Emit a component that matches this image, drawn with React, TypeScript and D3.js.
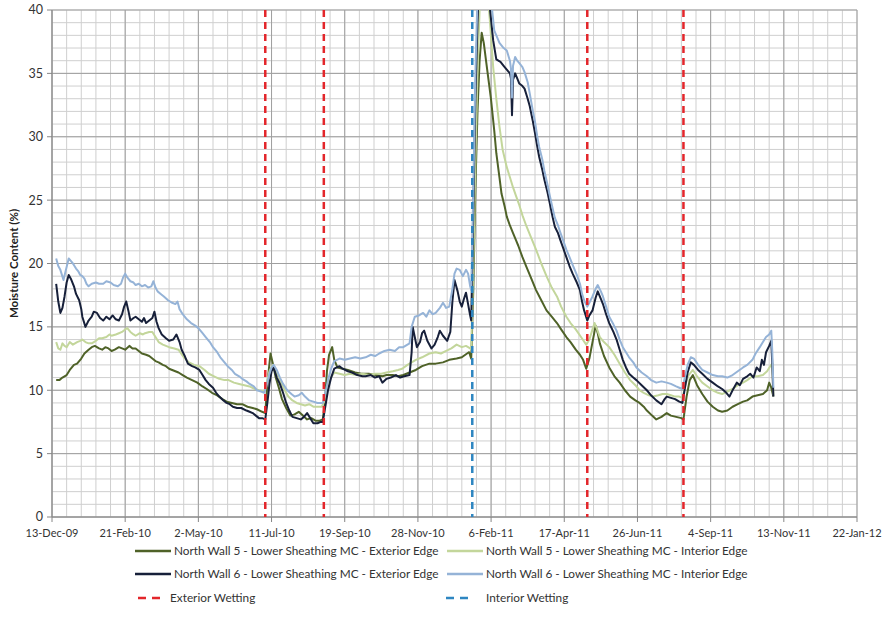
import React from "react";
import * as d3 from "d3";

// day offsets counted from 13-Dec-09, values in % moisture content
const START = new Date(Date.UTC(2009, 11, 13));
const END = new Date(Date.UTC(2012, 0, 22));

const nw5Exterior: [number, number][] = [
  [4, 10.8], [7, 10.8], [10, 11.0], [14, 11.2], [17, 11.6], [21, 12.0], [24, 12.1], [28, 12.5], [31, 12.9], [35, 13.2],
  [38, 13.4], [41, 13.5], [45, 13.3], [48, 13.2], [51, 13.4], [54, 13.3], [57, 13.1], [60, 13.2], [64, 13.4], [67, 13.3],
  [70, 13.2], [74, 13.5], [77, 13.3], [80, 13.3], [83, 13.1], [86, 12.9], [90, 12.8], [93, 12.7], [96, 12.5], [99, 12.3],
  [102, 12.2], [106, 12.0], [109, 11.9], [112, 11.7], [115, 11.6], [118, 11.5], [121, 11.4], [125, 11.2], [129, 11.0],
  [134, 10.8], [139, 10.6], [144, 10.3], [148, 10.1], [153, 9.8], [158, 9.6], [163, 9.3], [167, 9.1], [172, 9.0],
  [177, 8.9], [182, 8.9], [187, 8.7], [192, 8.6], [196, 8.5], [201, 8.3], [204, 8.2],
  [206, 10.5], [209, 12.9], [211, 12.2], [214, 11.0], [217, 10.2], [220, 9.3], [224, 8.6], [228, 8.0], [232, 8.1],
  [236, 8.3], [240, 8.0], [244, 7.7], [248, 7.8], [252, 7.6], [256, 7.6], [259, 7.7],
  [261, 9.0], [263, 11.5], [265, 12.8], [268, 13.4], [270, 12.4], [273, 11.8], [278, 11.7], [283, 11.6], [290, 11.4],
  [296, 11.3], [303, 11.3], [310, 11.2], [316, 11.1], [320, 11.2], [326, 11.2], [331, 11.1], [336, 11.2], [342, 11.4],
  [348, 11.6], [354, 11.9], [361, 12.1], [367, 12.1], [374, 12.2], [380, 12.4], [387, 12.5], [392, 12.6], [397, 12.9],
  [399, 13.0], [401, 12.5],
  [403, 18], [405, 26], [407, 32], [409, 36], [411, 38.2], [413, 37.4], [415, 36.1], [418, 34.2], [420, 32.9],
  [423, 30.5], [425, 28.7], [428, 26.8], [430, 25.5], [433, 24.5], [435, 23.7], [438, 23.0], [441, 22.4], [444, 21.8],
  [446, 21.4], [450, 20.5], [454, 19.7], [458, 18.9], [463, 17.9], [468, 17.1], [473, 16.3], [478, 15.8], [483, 15.3],
  [487, 14.8], [492, 14.2], [496, 13.8], [501, 13.2], [505, 12.8], [508, 12.4], [511, 11.7],
  [514, 12.5], [517, 13.8], [520, 15.1], [522, 14.5], [524, 13.7], [528, 12.7], [533, 11.8], [538, 11.1], [543, 10.6],
  [548, 10.0], [553, 9.5], [558, 9.2], [562, 9.0], [566, 8.7], [569, 8.4], [574, 8.0], [578, 7.7], [583, 7.9],
  [588, 8.2], [592, 8.0], [597, 7.9], [602, 7.8], [604, 7.7],
  [607, 9.5], [610, 10.8], [613, 11.2], [617, 10.4], [622, 9.7], [627, 9.1], [632, 8.7], [637, 8.4], [641, 8.3],
  [646, 8.4], [651, 8.7], [656, 8.9], [661, 9.1], [665, 9.2], [670, 9.5], [675, 9.6], [680, 9.7], [684, 10.0],
  [686, 10.6], [688, 10.2], [690, 9.5],
];

const nw5Interior: [number, number][] = [
  [4, 13.8], [6, 13.3], [8, 13.2], [10, 13.7], [12, 13.5], [14, 13.4], [17, 13.8], [20, 13.6], [24, 13.8], [27, 13.9],
  [29, 14.0], [32, 13.8], [35, 13.7], [38, 13.7], [42, 13.9], [45, 14.1], [48, 14.1], [52, 14.2], [55, 14.4], [57, 14.3],
  [61, 14.4], [64, 14.5], [67, 14.6], [70, 14.8], [72, 14.9], [75, 14.6], [78, 14.4], [80, 14.3], [84, 14.5], [87, 14.4],
  [89, 14.5], [93, 14.6], [96, 14.6], [99, 14.2], [102, 13.8], [106, 13.6], [109, 13.5], [112, 13.4], [117, 13.3],
  [121, 13.2], [126, 12.6], [131, 12.2], [136, 12.0], [141, 11.9], [146, 11.6], [150, 11.3], [155, 11.1], [160, 10.9],
  [165, 10.8], [169, 10.8], [174, 10.6], [179, 10.5], [184, 10.4], [189, 10.3], [194, 10.1], [198, 10.0], [203, 9.9],
  [205, 10.5], [208, 11.5], [211, 12.0], [214, 11.5], [218, 10.8], [222, 10.1], [226, 9.5], [230, 9.2], [234, 9.0],
  [238, 8.9], [242, 8.8], [246, 8.9], [250, 8.7], [254, 8.7], [258, 8.7],
  [261, 9.2], [264, 10.5], [267, 11.0], [270, 11.4], [275, 11.3], [280, 11.2], [285, 11.3], [291, 11.2], [297, 11.3],
  [303, 11.2], [309, 11.3], [315, 11.3], [320, 11.4], [326, 11.5], [331, 11.6], [335, 11.7], [340, 12.0], [344, 12.2],
  [348, 12.4], [354, 12.6], [361, 12.9], [367, 13.0], [372, 12.9], [377, 13.1], [382, 13.3], [387, 13.6], [392, 13.4],
  [396, 13.5], [400, 13.3], [401, 13.2],
  [403, 20], [405, 28], [407, 35], [409, 40], [411, 43], [414, 43], [417, 41], [419, 39], [422, 35.5], [425, 33],
  [428, 30.8], [431, 29], [435, 27.6], [438, 26.8], [441, 26.0], [444, 25.3], [447, 24.6], [450, 23.8], [454, 22.9],
  [458, 22.1], [463, 21.1], [468, 20.0], [473, 19.0], [478, 18.1], [483, 17.4], [487, 16.6], [492, 15.8], [496, 15.3],
  [501, 14.8], [506, 14.2], [511, 13.6],
  [514, 14.0], [517, 14.8], [519, 15.3], [521, 14.9], [524, 14.2], [528, 13.8], [533, 13.4], [538, 12.8], [543, 12.1],
  [548, 11.4], [553, 10.8], [558, 10.4], [562, 10.0], [566, 9.8], [571, 9.6], [575, 9.5], [580, 9.6], [584, 9.7],
  [588, 9.7], [592, 9.6], [596, 9.5], [600, 9.5], [603, 9.4],
  [606, 10.5], [609, 11.2], [613, 11.6], [617, 11.1], [622, 10.6], [627, 10.3], [632, 10.0], [637, 9.8], [641, 9.7],
  [646, 9.9], [651, 10.1], [656, 10.4], [661, 10.6], [665, 10.8], [670, 11.1], [675, 11.1], [680, 11.2], [684, 11.5],
  [687, 11.9], [689, 12.1], [690, 9.6],
];

const nw6Exterior: [number, number][] = [
  [4, 18.4], [6, 17.0], [8, 16.1], [10, 16.5], [12, 17.4], [14, 18.5], [16, 19.1], [18, 18.8], [21, 18.2], [23, 17.6],
  [26, 17.1], [28, 16.4], [29, 15.8], [32, 15.0], [35, 15.5], [38, 15.8], [40, 16.2], [43, 16.1], [46, 15.7], [49, 15.5],
  [52, 15.8], [55, 15.6], [58, 15.9], [61, 15.6], [64, 15.5], [67, 16.0], [69, 16.6], [71, 17.0], [73, 16.3], [75, 15.5],
  [78, 15.7], [80, 15.8], [83, 15.6], [86, 15.4], [88, 15.7], [90, 15.3], [93, 15.5], [96, 15.7], [98, 16.2], [100, 15.4],
  [102, 14.9], [105, 14.4], [109, 14.1], [112, 13.9], [116, 14.0], [119, 14.4], [122, 13.8], [124, 13.2], [127, 12.7],
  [130, 12.1], [134, 11.9], [137, 11.8], [141, 11.6], [144, 11.2], [147, 10.8], [150, 10.5], [154, 10.2], [157, 9.8],
  [160, 9.5], [164, 9.2], [167, 9.0], [170, 8.9], [173, 8.7], [177, 8.6], [181, 8.6], [186, 8.4], [189, 8.3], [192, 8.2],
  [195, 8.0], [198, 7.8], [201, 7.8], [204, 7.7],
  [206, 9.0], [208, 10.5], [210, 11.5], [212, 11.8], [215, 11.0], [218, 10.5], [221, 9.8], [224, 9.0], [227, 8.4],
  [230, 7.9], [234, 7.8], [238, 7.7], [241, 7.9], [244, 8.2], [247, 7.8], [250, 7.4], [254, 7.4], [257, 7.5], [259, 7.5],
  [261, 8.5], [264, 10.0], [267, 11.0], [270, 11.7], [275, 11.9], [278, 11.7], [283, 11.5], [287, 11.4], [292, 11.2],
  [297, 11.1], [300, 11.1], [305, 11.2], [309, 11.0], [313, 11.1], [316, 10.6], [320, 10.9], [324, 11.0], [329, 11.2],
  [333, 11.0], [337, 11.1], [342, 11.2], [344, 13.0], [345, 15.0], [347, 14.2], [349, 13.4], [352, 13.8], [354, 14.5],
  [356, 14.7], [359, 13.9], [363, 13.3], [366, 13.6], [369, 14.2], [371, 14.7], [374, 14.3], [378, 13.9], [381, 14.6],
  [383, 17.0], [385, 18.7], [388, 17.8], [390, 17.0], [392, 16.6], [394, 17.2], [396, 17.7], [398, 16.8], [400, 15.9],
  [401, 15.5],
  [403, 24], [405, 33], [407, 39], [409, 43], [412, 45], [415, 44], [417, 42], [419, 40], [422, 37.6], [425, 36.1],
  [429, 35.9], [432, 35.6], [435, 35.3], [438, 35.0], [439, 34.6], [440, 31.7], [441, 34.5], [443, 35.0], [445, 34.6],
  [447, 34.2], [450, 34.0], [452, 33.8], [455, 33.0], [457, 32.4], [460, 31.2], [462, 30.3], [464, 29.3], [466, 28.4],
  [469, 27.4], [471, 26.6], [474, 25.6], [476, 24.8], [479, 23.6], [481, 22.9], [484, 22.4], [486, 21.9], [489, 21.2],
  [492, 20.5], [495, 19.8], [498, 19.2], [502, 18.5], [505, 17.9], [507, 17.0], [509, 16.3], [512, 15.5],
  [514, 15.9], [517, 16.3], [520, 17.3], [522, 17.8], [525, 17.2], [527, 16.8], [530, 16.0], [533, 15.3], [537, 14.6],
  [540, 14.0], [543, 13.2], [546, 12.4], [549, 11.8], [552, 11.3], [556, 11.0], [559, 10.8], [564, 10.4], [569, 10.0],
  [573, 9.6], [578, 9.2], [583, 8.9], [586, 9.3], [588, 9.5], [592, 9.4], [596, 9.3], [600, 9.1], [603, 9.0],
  [605, 10.0], [608, 11.4], [611, 12.2], [614, 12.0], [618, 11.6], [622, 11.3], [627, 10.9], [632, 10.6], [637, 10.3],
  [641, 10.1], [645, 9.8], [648, 9.5], [651, 10.0], [655, 10.6], [658, 10.4], [661, 10.9], [665, 11.1], [668, 11.3],
  [671, 11.0], [674, 11.8], [677, 11.5], [679, 12.4], [681, 12.0], [683, 13.0], [686, 13.5], [688, 13.9], [689, 12.0],
  [690, 9.5],
];

const nw6Interior: [number, number][] = [
  [4, 20.4], [6, 19.8], [8, 19.5], [11, 18.7], [13, 19.4], [16, 20.4], [18, 20.2], [20, 20.0], [23, 19.6], [25, 19.4],
  [27, 19.1], [29, 19.0], [31, 18.8], [33, 18.4], [35, 18.2], [38, 18.4], [42, 18.5], [45, 18.4], [49, 18.4], [52, 18.6],
  [56, 18.5], [59, 18.3], [63, 18.2], [66, 18.4], [68, 18.9], [70, 19.2], [72, 18.9], [75, 18.6], [78, 18.5], [80, 18.3],
  [83, 18.4], [86, 18.2], [89, 18.3], [92, 18.1], [95, 18.2], [97, 18.6], [99, 18.1], [101, 17.8], [104, 17.6],
  [107, 17.4], [111, 17.1], [115, 16.9], [118, 16.8], [120, 17.0], [122, 16.4], [125, 16.0], [129, 15.6], [133, 15.3],
  [137, 15.1], [140, 14.9], [144, 14.5], [147, 14.2], [151, 13.8], [154, 13.4], [158, 13.0], [161, 12.6], [165, 12.2],
  [168, 11.9], [172, 11.6], [175, 11.3], [179, 11.1], [182, 10.9], [186, 10.7], [189, 10.5], [193, 10.3], [196, 10.0],
  [200, 9.9], [203, 9.8],
  [205, 10.3], [208, 11.3], [210, 11.8], [212, 12.0], [215, 11.6], [218, 11.0], [221, 10.5], [225, 10.0], [229, 9.7],
  [232, 9.5], [236, 9.6], [239, 9.8], [242, 9.5], [246, 9.2], [250, 9.1], [254, 9.0], [257, 9.0], [259, 9.0],
  [261, 9.6], [264, 10.8], [267, 11.7], [270, 12.3], [275, 12.5], [280, 12.4], [285, 12.5], [290, 12.6], [295, 12.5],
  [300, 12.6], [305, 12.8], [309, 12.7], [313, 12.9], [318, 13.1], [323, 13.2], [328, 13.1], [332, 13.4], [336, 13.4],
  [340, 13.6], [342, 13.7], [344, 15.0], [347, 15.8], [351, 15.9], [355, 16.1], [358, 15.8], [361, 16.3], [364, 16.0],
  [367, 16.1], [371, 16.5], [374, 16.9], [377, 16.5], [380, 16.6], [383, 18.0], [385, 19.2], [387, 19.6], [390, 19.5],
  [393, 19.0], [396, 19.5], [398, 19.2], [400, 18.2], [401, 17.9],
  [403, 26], [405, 35], [407, 41], [409, 45], [412, 47], [415, 46], [418, 44], [421, 40], [423, 38.4], [426, 37.8],
  [428, 37.4], [432, 37.0], [435, 36.8], [438, 36.0], [439, 35.4], [440, 33.1], [441, 35.6], [443, 36.3], [445, 36.0],
  [447, 35.8], [450, 35.5], [452, 35.1], [455, 34.3], [457, 33.4], [460, 32.0], [462, 31.2], [464, 30.1], [466, 29.2],
  [469, 28.2], [471, 27.3], [474, 26.2], [476, 25.4], [479, 24.3], [481, 23.6], [484, 23.0], [486, 22.5], [489, 21.8],
  [492, 21.1], [495, 20.5], [498, 19.9], [502, 19.1], [505, 18.4], [507, 17.6], [509, 17.1], [512, 16.6],
  [514, 16.9], [517, 17.4], [520, 18.0], [522, 18.3], [525, 17.8], [527, 17.4], [530, 16.6], [533, 15.8], [537, 15.2],
  [540, 14.7], [543, 14.0], [546, 13.4], [549, 13.0], [552, 12.6], [556, 12.2], [559, 11.8], [564, 11.4], [569, 11.1],
  [573, 10.8], [578, 10.6], [583, 10.7], [588, 10.6], [592, 10.5], [597, 10.3], [600, 10.2], [603, 10.1],
  [605, 10.9], [608, 12.0], [611, 12.6], [614, 12.5], [618, 12.0], [622, 11.6], [627, 11.4], [632, 11.2], [637, 11.1],
  [641, 11.1], [646, 11.0], [651, 11.2], [656, 11.5], [661, 11.8], [665, 12.0], [670, 12.4], [673, 12.9], [677, 13.4],
  [680, 13.8], [683, 14.2], [686, 14.4], [688, 14.7], [689, 13.0], [690, 10.2],
];

const exteriorWetting = [204, 260, 512, 604];
const interiorWetting = [402];

const seriesNames = [
  "North Wall 5 - Lower Sheathing MC - Exterior Edge",
  "North Wall 5 - Lower Sheathing MC - Interior Edge",
  "North Wall 6 - Lower Sheathing MC - Exterior Edge",
  "North Wall 6 - Lower Sheathing MC - Interior Edge",
];
const seriesColors = ["#4f6228", "#c3d69b", "#17203a", "#95b3d7"];

const W = 886;
const H = 621;
const m = { left: 52, right: 29, top: 10, bottom: 104 };
const FONT = "Lato, 'Open Sans', sans-serif";

const dayToDate = (d: number) => d3.utcDay.offset(START, d);

export default function App() {
  const x = d3.scaleUtc().domain([START, END]).range([m.left, W - m.right]);
  const y = d3.scaleLinear().domain([0, 40]).range([H - m.bottom, m.top]);

  const majorDates = d3.range(0, 12).map((i) => dayToDate(i * 70));
  const minorDates = d3.range(0, 56).map((i) => dayToDate(i * 14));
  const majorY = d3.range(0, 41, 5);
  const minorY = d3.range(0, 41, 1);

  const line = d3
    .line<[number, number]>()
    .x((d) => x(dayToDate(d[0])))
    .y((d) => y(d[1]));

  const allSeries = [nw5Exterior, nw5Interior, nw6Exterior, nw6Interior];
  const fmt = d3.utcFormat("%-d-%b-%y");
  const y0 = y(0);
  const y1 = y(40);
  const xL = x(START);
  const xR = x(END);

  const legendRows = [
    { y: 551, items: [0, 1] },
    { y: 574, items: [2, 3] },
  ];

  return (
    <svg
      width={W}
      height={H}
      style={{ position: "absolute", left: 0, top: 0, background: "#fff" }}
      fontFamily={FONT}
    >
      <defs>
        <clipPath id="plot">
          <rect x={xL} y={y1} width={xR - xL} height={y0 - y1} />
        </clipPath>
      </defs>

      {/* minor grid */}
      {minorDates.map((d, i) => (
        <line key={"mv" + i} x1={x(d)} x2={x(d)} y1={y1} y2={y0} stroke="#cfcfcf" strokeWidth={1} />
      ))}
      {minorY.map((v) => (
        <line key={"mh" + v} x1={xL} x2={xR} y1={y(v)} y2={y(v)} stroke="#cfcfcf" strokeWidth={1} />
      ))}
      {/* major grid */}
      {majorDates.map((d, i) => (
        <line key={"jv" + i} x1={x(d)} x2={x(d)} y1={y1} y2={y0} stroke="#9f9f9f" strokeWidth={1} />
      ))}
      {majorY.map((v) => (
        <line key={"jh" + v} x1={xL} x2={xR} y1={y(v)} y2={y(v)} stroke="#9f9f9f" strokeWidth={1} />
      ))}

      {/* axes */}
      <line x1={xL} x2={xL} y1={y1} y2={y0} stroke="#868686" />
      <line x1={xL} x2={xR} y1={y0} y2={y0} stroke="#868686" />
      {majorY.map((v) => (
        <g key={"yt" + v}>
          <line x1={xL - 5} x2={xL} y1={y(v)} y2={y(v)} stroke="#868686" />
          <text x={xL - 9} y={y(v)} dy="0.35em" textAnchor="end" fontSize={12.5} fill="#333">
            {v}
          </text>
        </g>
      ))}
      {majorDates.map((d, i) => (
        <g key={"xt" + i}>
          <line x1={x(d)} x2={x(d)} y1={y0} y2={y0 + 5} stroke="#868686" />
          <text x={x(d)} y={y0 + 20} textAnchor="middle" fontSize={11} fill="#333">
            {fmt(d)}
          </text>
        </g>
      ))}
      <text
        transform={`translate(18,${(y0 + y1) / 2}) rotate(-90)`}
        textAnchor="middle"
        fontSize={11.5}
        fontWeight="bold"
        fill="#222"
      >
        Moisture Content (%)
      </text>

      {/* series */}
      <g clipPath="url(#plot)">
        {allSeries.map((s, i) => (
          <path
            key={"s" + i}
            d={line(s) || ""}
            fill="none"
            stroke={seriesColors[i]}
            strokeWidth={2}
            strokeLinejoin="round"
          />
        ))}
      </g>

      {/* wetting events */}
      {exteriorWetting.map((d) => (
        <line
          key={"ew" + d}
          x1={x(dayToDate(d))}
          x2={x(dayToDate(d))}
          y1={y1}
          y2={y0}
          stroke="#e3262b"
          strokeWidth={2.5}
          strokeDasharray="7,5"
        />
      ))}
      {interiorWetting.map((d) => (
        <line
          key={"iw" + d}
          x1={x(dayToDate(d))}
          x2={x(dayToDate(d))}
          y1={y1}
          y2={y0}
          stroke="#2e86c1"
          strokeWidth={2.5}
          strokeDasharray="7,5"
        />
      ))}

      {/* legend */}
      {legendRows.map((row) =>
        row.items.map((idx, c) => {
          const lx = c === 0 ? 135 : 447;
          return (
            <g key={"lg" + idx}>
              <line x1={lx} x2={lx + 36} y1={row.y} y2={row.y} stroke={seriesColors[idx]} strokeWidth={2.5} />
              <text x={lx + 39} y={row.y} dy="0.35em" fontSize={11.8} fill="#333">
                {seriesNames[idx]}
              </text>
            </g>
          );
        })
      )}
      <g>
        <line x1={138} x2={164} y1={598} y2={598} stroke="#e3262b" strokeWidth={2.5} strokeDasharray="8,6" />
        <text x={170} y={598} dy="0.35em" fontSize={11.8} fill="#333">
          Exterior Wetting
        </text>
        <line x1={446} x2={472} y1={598} y2={598} stroke="#2e86c1" strokeWidth={2.5} strokeDasharray="8,6" />
        <text x={486} y={598} dy="0.35em" fontSize={11.8} fill="#333">
          Interior Wetting
        </text>
      </g>
    </svg>
  );
}
